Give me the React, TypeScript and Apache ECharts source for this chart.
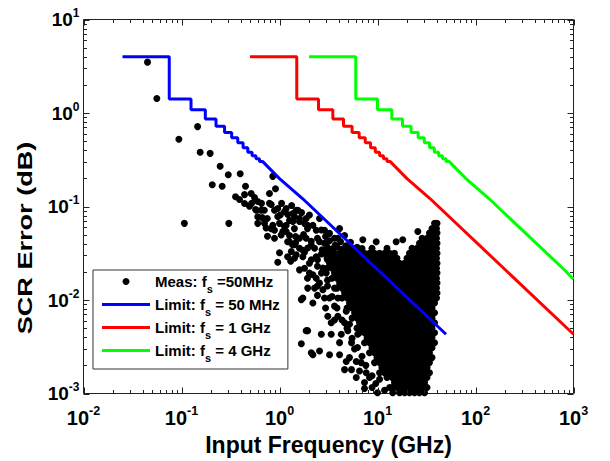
import React, { useEffect, useRef } from 'react';
import * as echarts from 'echarts';

const FONT = '"Liberation Sans", Arial, Helvetica, sans-serif';

const X_MIN = 0.01;
const X_MAX = 1000;
const Y_MIN = 0.001;
const Y_MAX = 10;

const xTickExponents = ['-2', '-1', '0', '1', '2', '3'];
const yTickExponents = ['-3', '-2', '-1', '0', '1'];

const xTitle = 'Input Frequency (GHz)';
const yTitle = 'SCR Error (dB)';

const seriesNames = ['meas', 'lim50M', 'lim1G', 'lim4G'];
const legendParts: [string, string, string][] = [
  ['Meas: f', 's', ' =50MHz'],
  ['Limit: f', 's', ' = 50 MHz'],
  ['Limit: f', 's', ' = 1 GHz'],
  ['Limit: f', 's', ' = 4 GHz'],
];
const seriesColors = ['#000000', '#0000ff', '#ff0000', '#00ff00'];

// Limit curves: [frequency GHz, SCR error dB]
const limit50MHz: [number, number][] = [
  [0.025, 4.0], [0.075, 4.0], [0.075, 1.41], [0.125, 1.41], [0.125, 1.08], [0.175, 1.08],
  [0.175, 0.863], [0.225, 0.863], [0.225, 0.723], [0.275, 0.723], [0.275, 0.62], [0.325, 0.62],
  [0.325, 0.542], [0.375, 0.542], [0.375, 0.48], [0.425, 0.48], [0.425, 0.425], [0.475, 0.425],
  [0.475, 0.38], [0.525, 0.38], [0.525, 0.35], [0.575, 0.35], [0.575, 0.325], [0.625, 0.325],
  [0.625, 0.302], [0.675, 0.302], [1.0, 0.1986], [1.717, 0.1217], [10, 0.0212], [50, 0.0043],
];
const limit1GHz: [number, number][] = [
  [0.5, 4.0], [1.5, 4.0], [1.5, 1.41], [2.5, 1.41], [2.5, 1.08], [3.5, 1.08],
  [3.5, 0.863], [4.5, 0.863], [4.5, 0.723], [5.5, 0.723], [5.5, 0.62], [6.5, 0.62],
  [6.5, 0.542], [7.5, 0.542], [7.5, 0.48], [8.5, 0.48], [8.5, 0.425], [9.5, 0.425],
  [9.5, 0.38], [10.5, 0.38], [10.5, 0.35], [11.5, 0.35], [11.5, 0.325], [12.5, 0.325],
  [12.5, 0.302], [13.5, 0.302], [20, 0.1986], [34.3, 0.1217], [200, 0.0212], [1000, 0.0043],
];
const limit4GHz: [number, number][] = [
  [2, 4.0], [6, 4.0], [6, 1.41], [10, 1.41], [10, 1.08], [14, 1.08],
  [14, 0.863], [18, 0.863], [18, 0.723], [22, 0.723], [22, 0.62], [26, 0.62],
  [26, 0.542], [30, 0.542], [30, 0.48], [34, 0.48], [34, 0.425], [38, 0.425],
  [38, 0.38], [42, 0.38], [42, 0.35], [46, 0.35], [46, 0.325], [50, 0.325],
  [50, 0.302], [54, 0.302], [80, 0.1986], [137, 0.1217], [800, 0.0212], [1000, 0.0167],
];

// Measured points, scattered part: [frequency GHz, dB]
const measScattered: [number, number][] = [
  [0.045, 3.5], [0.056, 1.43], [0.146, 0.715], [0.094, 0.525], [0.155, 0.38], [0.196, 0.37],
  [0.248, 0.27], [0.30, 0.219], [0.397, 0.224], [0.206, 0.171], [0.26, 0.165], [0.45, 0.165],
  [0.107, 0.066], [0.304, 0.066], [0.356, 0.127], [0.391, 0.119], [0.44, 0.134], [0.514, 0.1375],
  [0.556, 0.125], [0.60, 0.113], [0.854, 0.21], [0.91, 0.155], [0.79, 0.1375], [0.823, 0.105],
  [0.57, 0.093], [0.65, 0.091], [1.17, 0.095], [1.48, 0.091], [1.215, 0.082], [0.666, 0.076],
  [0.75, 0.0745], [0.96, 0.078], [1.017, 0.081], [0.73, 0.059], [0.854, 0.063], [1.125, 0.061],
  [1.6, 0.069], [1.87, 0.0745], [2.02, 0.081], [1.04, 0.0495], [1.17, 0.054], [1.21, 0.042],
  [1.36, 0.039], [1.6, 0.0357], [1.46, 0.041], [1.0, 0.032], [1.32, 0.033], [1.73, 0.034],
  [1.87, 0.0457], [1.93, 0.058], [1.125, 0.088], [1.37, 0.084], [1.54, 0.091], [1.17, 0.063],
  [1.37, 0.069], [1.6, 0.0745], [1.8, 0.066], [2.19, 0.063], [2.67, 0.056], [2.56, 0.0745],
  [1.265, 0.042], [1.42, 0.039], [1.6, 0.0457], [1.94, 0.036], [1.73, 0.029], [2.11, 0.027],
  [2.37, 0.029], [1.6, 0.021], [1.8, 0.0219], [2.19, 0.0186], [2.37, 0.0171], [2.77, 0.022],
  [3.0, 0.0194], [1.67, 0.0101], [2.19, 0.0093], [2.28, 0.0134], [2.77, 0.0129], [3.24, 0.0105],
  [3.64, 0.0086], [1.94, 0.0047], [2.67, 0.0043], [3.37, 0.0043], [4.27, 0.0043], [4.98, 0.0047],
  [1.67, 0.0034], [2.19, 0.0026], [2.56, 0.00285], [3.24, 0.0026], [4.1, 0.0026], [4.8, 0.0022],
  [6.07, 0.0022], [6.8, 0.00214], [6.55, 0.00174], [6.07, 0.00148], [7.67, 0.00167], [3.11, 0.0067],
  [3.37, 0.0057], [3.94, 0.0067], [4.8, 0.0076], [5.18, 0.0055], [6.29, 0.0043], [10.5, 0.00142],
  [13.3, 0.00116], [14.3, 0.00102], [7.08, 0.044], [9.7, 0.042], [15.5, 0.042], [18.1, 0.044],
  [25.8, 0.054], [0.58, 0.091], [0.79, 0.108], [0.82, 0.058], [1.0, 0.066], [1.08, 0.054],
  [0.96, 0.0253], [1.73, 0.0105], [1.94, 0.0134], [1.87, 0.0047], [2.11, 0.00273], [2.44, 0.0457],
  [2.88, 0.0404], [2.28, 0.0357], [2.68, 0.031], [2.02, 0.0247], [2.44, 0.023], [1.93, 0.0171],
  [2.56, 0.0152], [3.09, 0.0163], [2.88, 0.0105], [2.44, 0.0112], [3.94, 0.0105], [3.64, 0.0134],
  [3.09, 0.0269], [2.11, 0.0424], [3.24, 0.0516], [3.94, 0.0457], [4.61, 0.049], [4.1, 0.058],
  [2.88, 0.0556], [1.42, 0.028], [1.3, 0.026], [4.61, 0.0057], [5.43, 0.0035], [6.25, 0.0031],
  [4.1, 0.0035], [7.37, 0.00131], [8.8, 0.00116], [10.0, 0.00102], [8.29, 0.00148], [5.43, 0.0018],
  [11.8, 0.00108], [0.52, 0.108], [0.6, 0.066], [0.70, 0.091], [0.889, 0.091], [1.05, 0.108],
  [1.265, 0.071], [1.42, 0.058], [0.889, 0.0457], [0.754, 0.048], [1.265, 0.049],
  [2.44, 0.0269], [2.68, 0.0194], [3.09, 0.0141], [3.44, 0.0109], [3.86, 0.0082], [4.35, 0.0061],
  [4.89, 0.005], [5.5, 0.0039], [5.83, 0.003], [6.95, 0.0025], [7.6, 0.002], [8.8, 0.00155],
  [9.6, 0.00128], [2.02, 0.0194], [2.44, 0.0141], [2.95, 0.0082], [3.64, 0.0061], [5.18, 0.00242],
  [4.61, 0.0018], [7.37, 0.00113], [0.655, 0.108], [0.96, 0.0952], [1.33, 0.1025], [1.68, 0.086],
  [1.42, 0.078], [1.93, 0.063], [2.37, 0.0556], [1.76, 0.05], [1.46, 0.0478], [2.11, 0.0386],
  [1.8, 0.0324], [1.48, 0.0305], [1.21, 0.029], [2.56, 0.042], [3.09, 0.0357], [3.64, 0.0457],
  [2.95, 0.0478], [0.889, 0.0556], [0.703, 0.066], [0.6, 0.0776], [0.494, 0.1009], [0.44, 0.1076],
  [3.24, 0.043], [3.7, 0.0385], [4.2, 0.042], [4.75, 0.038], [5.3, 0.0415],
  [2.72, 0.0345], [3.06, 0.037], [3.44, 0.035], [3.86, 0.0368], [4.35, 0.0348], [4.89, 0.0365],
  [5.5, 0.0352], [6.18, 0.0366], [6.95, 0.0355],
];

// Measured points, dense core: [dB, frequencies GHz in that row]
const measDenseRows: [number, number[]][] = [
  [0.066, [38.2, 40.5]],
  [0.058, [36.0, 40.0]],
  [0.052, [33.9, 38.2, 40.5]],
  [0.0457, [28.5, 32.0, 36.0, 40.0]],
  [0.0404, [26.8, 30.2, 33.9, 38.2, 40.5]],
  [0.0357, [8.79, 12.5, 22.5, 25.3, 28.5, 32.0, 36.0, 40.0]],
  [0.0316, [2.88, 3.24, 3.64, 4.10, 4.61, 5.18, 5.83, 6.55, 7.37, 8.29, 9.32, 10.5, 11.8, 13.3, 14.9, 21.2, 23.9, 26.8, 30.2, 33.9, 38.2, 40.5]],
  [0.028, [3.06, 3.44, 3.86, 4.35, 4.89, 5.50, 6.18, 6.95, 7.82, 8.79, 9.89, 11.1, 12.5, 14.1, 15.8, 20.0, 22.5, 25.3, 28.5, 32.0, 36.0, 40.0]],
  [0.0247, [3.24, 3.64, 4.10, 4.61, 5.18, 5.83, 6.55, 7.37, 8.29, 9.32, 10.5, 11.8, 13.3, 14.9, 16.8, 18.9, 21.2, 23.9, 26.8, 30.2, 33.9, 38.2, 40.5]],
  [0.0219, [3.06, 3.44, 3.86, 4.35, 4.89, 5.50, 6.18, 6.95, 7.82, 8.79, 9.89, 11.1, 12.5, 14.1, 15.8, 17.8, 20.0, 22.5, 25.3, 28.5, 32.0, 36.0, 40.0]],
  [0.0194, [3.64, 4.10, 4.61, 5.18, 5.83, 6.55, 7.37, 8.29, 9.32, 10.5, 11.8, 13.3, 14.9, 16.8, 18.9, 21.2, 23.9, 26.8, 30.2, 33.9, 38.2, 40.5]],
  [0.0171, [3.44, 3.86, 4.35, 4.89, 5.50, 6.18, 6.95, 7.82, 8.79, 9.89, 11.1, 12.5, 14.1, 15.8, 17.8, 20.0, 22.5, 25.3, 28.5, 32.0, 36.0, 40.0]],
  [0.0152, [4.10, 4.61, 5.18, 5.83, 6.55, 7.37, 8.29, 9.32, 10.5, 11.8, 13.3, 14.9, 16.8, 18.9, 21.2, 23.9, 26.8, 30.2, 33.9, 38.2, 40.5]],
  [0.0134, [3.86, 4.35, 4.89, 5.50, 6.18, 6.95, 7.82, 8.79, 9.89, 11.1, 12.5, 14.1, 15.8, 17.8, 20.0, 22.5, 25.3, 28.5, 32.0, 36.0, 40.0]],
  [0.0119, [4.61, 5.18, 5.83, 6.55, 7.37, 8.29, 9.32, 10.5, 11.8, 13.3, 14.9, 16.8, 18.9, 21.2, 23.9, 26.8, 30.2, 33.9, 38.2, 40.5]],
  [0.0105, [4.35, 4.89, 5.50, 6.18, 6.95, 7.82, 8.79, 9.89, 11.1, 12.5, 14.1, 15.8, 17.8, 20.0, 22.5, 25.3, 28.5, 32.0, 36.0, 40.0]],
  [0.0093, [5.18, 5.83, 6.55, 7.37, 8.29, 9.32, 10.5, 11.8, 13.3, 14.9, 16.8, 18.9, 21.2, 23.9, 26.8, 30.2, 33.9, 38.2]],
  [0.0082, [4.89, 5.50, 6.18, 6.95, 7.82, 8.79, 9.89, 11.1, 12.5, 14.1, 15.8, 17.8, 20.0, 22.5, 25.3, 28.5, 32.0, 36.0]],
  [0.0073, [5.83, 6.55, 7.37, 8.29, 9.32, 10.5, 11.8, 13.3, 14.9, 16.8, 18.9, 21.2, 23.9, 26.8, 30.2, 33.9, 38.2]],
  [0.0064, [5.50, 6.18, 6.95, 7.82, 8.79, 9.89, 11.1, 12.5, 14.1, 15.8, 17.8, 20.0, 22.5, 25.3, 28.5, 32.0, 36.0]],
  [0.0057, [6.55, 7.37, 8.29, 9.32, 10.5, 11.8, 13.3, 14.9, 16.8, 18.9, 21.2, 23.9, 26.8, 30.2, 33.9, 38.2]],
  [0.0050, [6.18, 6.95, 7.82, 8.79, 9.89, 11.1, 12.5, 14.1, 15.8, 17.8, 20.0, 22.5, 25.3, 28.5, 32.0, 36.0]],
  [0.00446, [6.55, 7.37, 8.29, 9.32, 10.5, 11.8, 13.3, 14.9, 16.8, 18.9, 21.2, 23.9, 26.8, 30.2, 33.9, 38.2]],
  [0.00394, [7.82, 8.79, 9.89, 11.1, 12.5, 14.1, 15.8, 17.8, 20.0, 22.5, 25.3, 28.5, 32.0, 36.0]],
  [0.00349, [7.37, 8.29, 9.32, 10.5, 11.8, 13.3, 14.9, 16.8, 18.9, 21.2, 23.9, 26.8, 30.2, 33.9, 38.2]],
  [0.00309, [8.79, 9.89, 11.1, 12.5, 14.1, 15.8, 17.8, 20.0, 22.5, 25.3, 28.5, 32.0, 36.0]],
  [0.00273, [8.29, 9.32, 10.5, 11.8, 13.3, 14.9, 16.8, 18.9, 21.2, 23.9, 26.8, 30.2, 33.9]],
  [0.00242, [9.89, 11.1, 12.5, 14.1, 15.8, 17.8, 20.0, 22.5, 25.3, 28.5, 32.0, 36.0]],
  [0.00214, [9.32, 10.5, 11.8, 13.3, 14.9, 16.8, 18.9, 21.2, 23.9, 26.8, 30.2, 33.9]],
  [0.00189, [11.1, 12.5, 14.1, 15.8, 17.8, 20.0, 22.5, 25.3, 28.5, 32.0]],
  [0.00167, [10.5, 11.8, 13.3, 14.9, 16.8, 18.9, 21.2, 23.9, 26.8, 30.2, 33.9]],
  [0.00148, [12.5, 14.1, 15.8, 17.8, 20.0, 22.5, 25.3, 28.5, 32.0]],
  [0.00131, [14.9, 16.8, 18.9, 21.2, 23.9, 26.8, 30.2]],
  [0.00116, [14.1, 15.8, 17.8, 20.0, 22.5, 25.3, 28.5, 32.0]],
  [0.00102, [16.8, 18.9, 21.2, 23.9, 26.8, 30.2]],
];

type Tick = { axis: 'x' | 'y'; v: number; len: number };

function buildTicks(): Tick[] {
  const ticks: Tick[] = [];
  xTickExponents.forEach((e) => ticks.push({ axis: 'x', v: Math.pow(10, Number(e)), len: 6 }));
  yTickExponents.forEach((e) => ticks.push({ axis: 'y', v: Math.pow(10, Number(e)), len: 6 }));
  for (let i = 0; i < xTickExponents.length - 1; i++) {
    const base = Math.pow(10, Number(xTickExponents[i]));
    for (let m = 2; m <= 9; m++) ticks.push({ axis: 'x', v: m * base, len: 3.5 });
  }
  for (let i = 0; i < yTickExponents.length - 1; i++) {
    const base = Math.pow(10, Number(yTickExponents[i]));
    for (let m = 2; m <= 9; m++) ticks.push({ axis: 'y', v: m * base, len: 3.5 });
  }
  return ticks;
}

const LINE_ICON = 'path://M0,0L48,0L48,3L0,3Z';

function buildOption(): any {
  const measData = [
    ...measScattered,
    ...measDenseRows.flatMap(([db, fs]) => fs.map((f) => [f, db] as [number, number])),
  ];
  const ticks = buildTicks();
  const tickStyle = { stroke: '#222', lineWidth: 1 };

  const expLabel = (list: string[]) => (v: number) => {
    const e = String(Math.round(Math.log10(v)));
    return list.includes(e) ? `{b|10}{e|${e}}` : '';
  };

  return {
    animation: false,
    backgroundColor: '#ffffff',
    grid: {
      left: 83.5, right: 36.5, top: 19.5, bottom: 65.5,
      show: true, borderColor: '#222', borderWidth: 1, backgroundColor: 'transparent',
    },
    xAxis: {
      type: 'log', logBase: 10, min: X_MIN, max: X_MAX,
      name: xTitle, nameLocation: 'middle', nameGap: 39.5,
      nameTextStyle: { fontFamily: FONT, fontWeight: 'bold', fontSize: 23, color: '#000' },
      axisLine: { show: false }, axisTick: { show: false }, splitLine: { show: false },
      axisLabel: {
        margin: 11, formatter: expLabel(xTickExponents),
        rich: {
          b: { fontFamily: FONT, fontWeight: 'bold', fontSize: 20, color: '#000' },
          e: { fontFamily: FONT, fontWeight: 'bold', fontSize: 12.5, color: '#000', padding: [0, 0, 14, 0] },
        },
      },
    },
    yAxis: {
      type: 'log', logBase: 10, min: Y_MIN, max: Y_MAX,
      axisLine: { show: false }, axisTick: { show: false }, splitLine: { show: false },
      axisLabel: {
        margin: 4, formatter: expLabel(yTickExponents),
        rich: {
          b: { fontFamily: FONT, fontWeight: 'bold', fontSize: 19, color: '#000' },
          e: { fontFamily: FONT, fontWeight: 'bold', fontSize: 12, color: '#000', padding: [0, 0, 13, 0] },
        },
      },
    },
    legend: {
      data: seriesNames.map((n, i) =>
        i === 0
          ? { name: n, icon: 'circle', itemStyle: { color: seriesColors[0], opacity: 1 } }
          : { name: n, icon: LINE_ICON, itemStyle: { color: seriesColors[i] } }
      ),
      orient: 'vertical',
      left: 93, top: 270,
      padding: [4, 8, 6, 9],
      itemGap: 3,
      itemWidth: 48,
      itemHeight: 7,
      symbolKeepAspect: true,
      borderColor: '#333', borderWidth: 1, backgroundColor: '#ffffff',
      selectedMode: false,
      formatter: (name: string) => {
        const p = legendParts[seriesNames.indexOf(name)];
        return `{t|${p[0]}}{s|${p[1]}}{t|${p[2]}}`;
      },
      textStyle: {
        fontFamily: FONT, fontWeight: 'bold', fontSize: 15, color: '#000',
        rich: {
          t: { fontFamily: FONT, fontWeight: 'bold', fontSize: 15, color: '#000' },
          s: { fontFamily: FONT, fontWeight: 'bold', fontSize: 11, color: '#000', padding: [14, 0, 0, 0] },
        },
      },
    },
    graphic: [
      {
        type: 'text', x: 25, y: 238, rotation: Math.PI / 2, scaleX: 1.29,
        style: {
          text: yTitle, fontFamily: FONT, fontWeight: 'bold', fontSize: 21, fill: '#000',
          align: 'center', verticalAlign: 'middle',
        },
      },
    ],
    series: [
      {
        type: 'scatter', name: seriesNames[0], data: measData, symbol: 'circle', symbolSize: 7,
        itemStyle: { color: seriesColors[0], opacity: 1 }, silent: true, z: 2,
      },
      ...[limit50MHz, limit1GHz, limit4GHz].map((d, i) => ({
        type: 'line', name: seriesNames[i + 1], data: d, symbol: 'none', showSymbol: false,
        lineStyle: { color: seriesColors[i + 1], width: 3 }, itemStyle: { color: seriesColors[i + 1] },
        silent: true, z: 3,
      })),
      {
        type: 'custom', name: 'ticks', silent: true, z: 4,
        data: ticks.map((t) => (t.axis === 'x' ? [t.v, 1] : [1, t.v])),
        renderItem: (params: any, api: any) => {
          const t = ticks[params.dataIndex];
          if (t.axis === 'x') {
            const b = api.coord([t.v, Y_MIN]);
            const tp = api.coord([t.v, Y_MAX]);
            const x = Math.round(b[0]) + 0.5;
            return {
              type: 'group',
              children: [
                { type: 'line', shape: { x1: x, y1: b[1], x2: x, y2: b[1] - t.len }, style: tickStyle },
                { type: 'line', shape: { x1: x, y1: tp[1], x2: x, y2: tp[1] + t.len }, style: tickStyle },
              ],
            };
          }
          const l = api.coord([X_MIN, t.v]);
          const r = api.coord([X_MAX, t.v]);
          const y = Math.round(l[1]) + 0.5;
          return {
            type: 'group',
            children: [
              { type: 'line', shape: { x1: l[0], y1: y, x2: l[0] + t.len, y2: y }, style: tickStyle },
              { type: 'line', shape: { x1: r[0], y1: y, x2: r[0] - t.len, y2: y }, style: tickStyle },
            ],
          };
        },
      },
    ],
  };
}

export default function App() {
  const ref = useRef<HTMLDivElement>(null);
  useEffect(() => {
    document.body.style.margin = '0';
    const chart = echarts.init(ref.current!, null, { renderer: 'svg' });
    chart.setOption(buildOption());
    return () => chart.dispose();
  }, []);
  return (
    <div
      ref={ref}
      style={{ position: 'fixed', left: 0, top: 0, width: 610, height: 461, background: '#fff' }}
    />
  );
}
